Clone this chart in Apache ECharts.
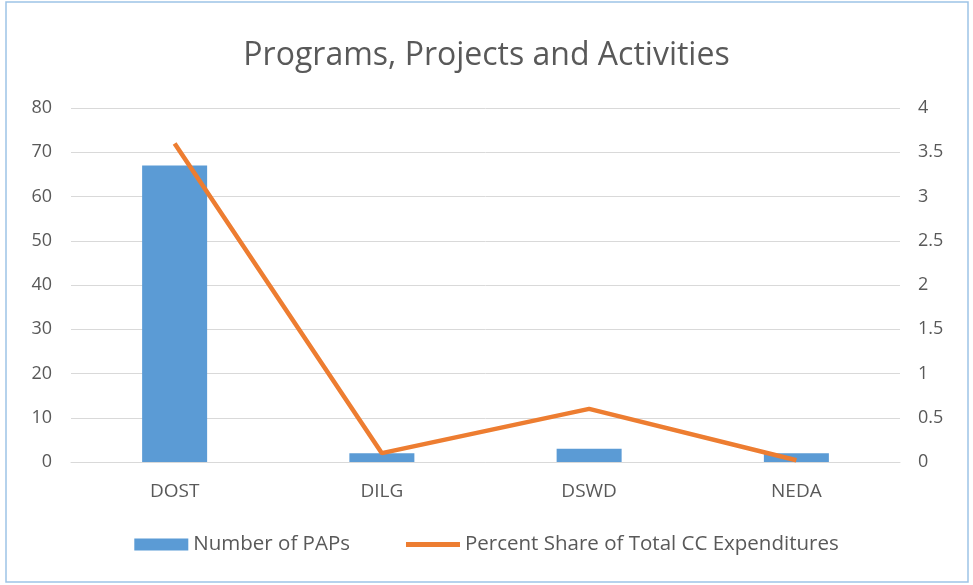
<!DOCTYPE html>
<html>
<head>
<meta charset="utf-8">
<script src="https://cdn.jsdelivr.net/npm/echarts@6/dist/echarts.min.js"></script>
<style>
  html, body { margin: 0; padding: 0; background: #fff; }
  #chart { width: 973px; height: 585px; }
</style>
</head>
<body>
<div id="chart"></div>
<script>
const categories = ['DOST', 'DILG', 'DSWD', 'NEDA']
const papCounts = [67, 2, 3, 2]
const percentShare = [3.6, 0.1, 0.6, 0.02]
const leftTicks = { min: 0, max: 80, interval: 10 }
const rightTicks = { min: 0, max: 4, interval: 0.5 }

const chart = echarts.init(document.getElementById('chart'))
const font = '"Open Sans", "Noto Sans", sans-serif'
const textColor = '#595959'

chart.setOption({
  animation: false,
  textStyle: { fontFamily: font },
  title: {
    text: 'Programs, Projects and Activities',
    left: 'center',
    top: 35,
    textStyle: { color: textColor, fontSize: 32, fontWeight: 'normal', fontFamily: font }
  },
  // chart frame
  graphic: [{
    type: 'rect',
    shape: { x: 6, y: 2, width: 962, height: 580 },
    style: { fill: 'none', stroke: '#9dc3e6', lineWidth: 1.5 },
    silent: true
  }],
  legend: {
    bottom: 25,
    left: 'center',
    itemGap: 56,
    itemWidth: 54,
    itemHeight: 12,
    symbolKeepAspect: true,
    textStyle: { color: textColor, fontSize: 20.5, fontFamily: font },
    data: [
      { name: 'Number of PAPs', icon: 'rect' },
      { name: 'Percent Share of Total CC Expenditures', icon: 'path://M0,0H54V5H0Z' }
    ]
  },
  grid: { left: 71, right: 73, top: 108, bottom: 123 },
  xAxis: {
    type: 'category',
    data: categories,
    axisLine: { lineStyle: { color: '#d9d9d9' } },
    axisTick: { show: false },
    axisLabel: { color: textColor, fontSize: 19, margin: 20 }
  },
  yAxis: [{
    type: 'value',
    min: leftTicks.min,
    max: leftTicks.max,
    interval: leftTicks.interval,
    axisLine: { show: false },
    axisTick: { show: false },
    axisLabel: { color: textColor, fontSize: 18, margin: 19 },
    splitLine: { lineStyle: { color: '#d9d9d9' } }
  }, {
    type: 'value',
    min: rightTicks.min,
    max: rightTicks.max,
    interval: rightTicks.interval,
    axisLine: { show: false },
    axisTick: { show: false },
    axisLabel: { color: textColor, fontSize: 18, margin: 18 },
    splitLine: { show: false }
  }],
  series: [{
    name: 'Number of PAPs',
    type: 'bar',
    barWidth: 65,
    itemStyle: { color: '#5b9bd5' },
    data: papCounts
  }, {
    name: 'Percent Share of Total CC Expenditures',
    type: 'line',
    yAxisIndex: 1,
    symbol: 'none',
    lineStyle: { color: '#ed7d31', width: 4.5 },
    itemStyle: { color: '#ed7d31' },
    data: percentShare
  }]
})
</script>
</body>
</html>
